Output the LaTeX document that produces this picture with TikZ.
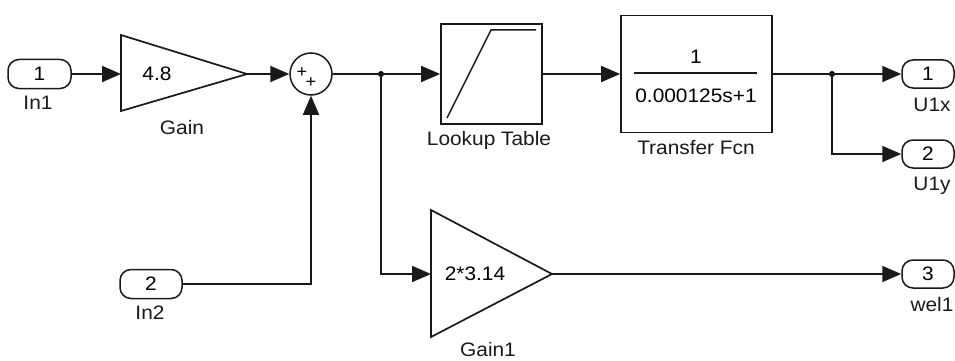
\documentclass[tikz,border=0pt]{standalone}
\usepackage{fontspec}
\setmainfont{Liberation Sans}[FakeStretch=1.07]
\usetikzlibrary{arrows.meta}
\begin{document}
\begin{tikzpicture}[x=1pt,y=-1pt,
  every node/.style={font=\fontsize{19.5}{22}\selectfont, inner sep=0pt},
  wire/.style={line width=1.7pt, draw=black!90},
  arr/.style={wire, -{Triangle[length=19pt,width=16pt]}},
  blk/.style={draw=black!90, line width=1.7pt, rectangle},
  port/.style={draw=black!90, line width=1.5pt, rectangle, rounded corners=11pt},
  lbl/.style={text=black!90},
  dotj/.style={circle, fill=black, minimum size=6pt}]
\useasboundingbox (0,0) rectangle (955,361);
% blocks
\node[port, minimum width=63pt, minimum height=29pt] (in1) at (39.5,74) {1};
\node[lbl] (in1l) at (38,103) {In1};
\coordinate (gainin) at (121,74);
\coordinate (gainout) at (247,74);
\draw[blk, line join=miter] (121,35) -- (121,111) -- (gainout) -- cycle;
\node (gainv) at (157,74) {4.8};
\node[lbl] (gainl) at (182,128) {Gain};
\node[draw=black!90, line width=1.5pt, circle, minimum size=42pt] (sum) at (311,74) {};
\node (p1) at (302,73) {\fontsize{17}{17}\selectfont +};
\node (p2) at (311,83) {\fontsize{17}{17}\selectfont +};
\node[dotj] (j1) at (381,74) {};
\node[blk, minimum width=101pt, minimum height=100pt] (lut) at (491.5,74) {};
\draw[line width=1.5pt, black!90] (447,118) -- (491,30) -- (536,30);
\node[lbl] (lutl) at (489,140) {Lookup Table};
\node[blk, minimum width=151pt, minimum height=117pt] (tf) at (696.5,74) {};
\node (num) at (696,57) {1};
\draw[line width=1.5pt, black!90] (634,73) -- (757,73);
\node (den) at (696,96) {0.000125s+1};
\node[lbl] (tfl) at (696,148) {Transfer Fcn};
\node[dotj] (j2) at (832,74) {};
\node[port, minimum width=52pt, minimum height=28pt] (out1) at (928,74) {1};
\node[lbl] (out1l) at (932,105) {U1x};
\node[port, minimum width=52pt, minimum height=28pt] (out2) at (928,154) {2};
\node[lbl] (out2l) at (932,186) {U1y};
\node[port, minimum width=62pt, minimum height=29pt] (in2) at (151,284) {2};
\node[lbl] (in2l) at (150,313) {In2};
\coordinate (g1in) at (431,274);
\coordinate (g1out) at (552,274);
\draw[blk, line join=miter] (431,210) -- (431,337) -- (g1out) -- cycle;
\node (g1v) at (475,274) {2*3.14};
\node[lbl] (g1l) at (488,350) {Gain1};
\node[port, minimum width=52pt, minimum height=28pt] (out3) at (928,274) {3};
\node[lbl] (out3l) at (932,305) {wel1};
% connectors
\draw[arr] (in1.east) -- (gainin);
\draw[arr] (gainout) -- (sum.west);
\draw[wire] (sum.east) -- (j1.center);
\draw[arr] (j1.center) -- (lut.west);
\draw[arr] (lut.east) -- (tf.west);
\draw[wire] (tf.east) -- (j2.center);
\draw[arr] (j2.center) -- (out1.west);
\draw[arr] (j2.center) |- (out2.west);
\draw[arr] (in2.east) -| (sum.south);
\draw[arr] (j1.center) |- (g1in);
\draw[arr] (g1out) -- (out3.west);
\end{tikzpicture}
\end{document}
